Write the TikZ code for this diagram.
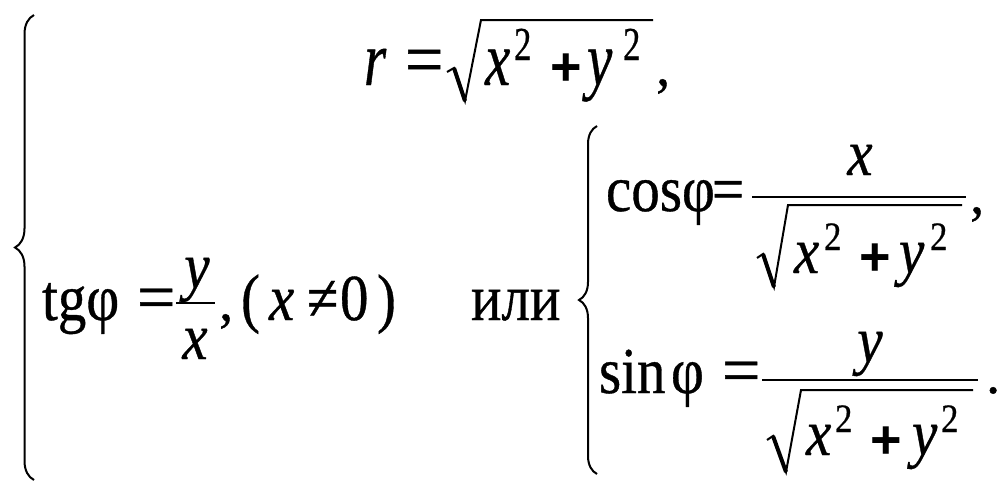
\documentclass[tikz,border=0pt]{standalone}
\usepackage{graphicx}
\usepackage{fontspec}
\setmainfont{Liberation Serif}[FakeBold=0.6]
\setsansfont{Liberation Sans}
\usetikzlibrary{decorations.pathreplacing}
\newcommand{\vs}[2][1.15]{\scalebox{1}[#1]{#2}}
\newcommand{\weq}[1][1.2]{\scalebox{1.2}[#1]{=}}
\begin{document}
\begin{tikzpicture}[x=1pt,y=-1pt,line width=2pt,
    every node/.style={inner sep=0pt,anchor=base west,font=\fontsize{57}{60}\selectfont},
    numer/.style={anchor=base},
    sup/.style={font=\fontsize{35}{40}\selectfont},
    plus/.style={anchor=center,font=\fontsize{54}{60}\selectfont\sffamily\bfseries},
    bar/.style={line width=2.6pt},
    stem/.style={line width=4pt},
    bigbrace/.style={decorate,decoration={brace,amplitude=19pt}},
    smallbrace/.style={decorate,decoration={brace,amplitude=18pt}}]
    \useasboundingbox (0,0) rectangle (1008,496);
    \draw[bigbrace] (34,480) -- (34,15);
    \node (r) at (363,85) {\vs[1.35]{\textit{r}}};
    \node (req) at (404,85) {\weq[1.35]};
    \draw (447,72) -- (454,68) -- (465,101) -- (481,20) -- (653,20);
    \draw[stem] (454,68) -- (465,101);
    \node (rx) at (484,85) {\vs[1.35]{\textit{x}}};
    \node[sup] (rx2) at (513,60) {\vs[1.35]{2}};
    \node[plus] (rplus) at (566,70) {+};
    \node (ry) at (586,85) {\vs[1.35]{\textit{y}}};
    \node[sup] (ry2) at (622,60) {\vs[1.35]{2}};
    \node (rcomma) at (655,85) {,};
    \node (tg) at (41,320) {\vs{tgφ}};
    \node (tgeq) at (136,320) {\weq};
    \draw[bar] (176,303) -- (215,303);
    \node[numer] (tgnum) at (197,288) {\vs{\textit{y}}};
    \node[numer] (tgden) at (195,359) {\vs{\textit{x}}};
    \node (tgcomma) at (218,320) {,};
    \node (lpar) at (240,320) {\vs{(}};
    \node (cx) at (268,320) {\vs{\textit{x}}};
    \node (neq) at (306,320) {\vs{≠}};
    \node (zero) at (339,320) {\vs{0}};
    \node (rpar) at (376,320) {\vs{)}};
    \node (ili) at (470,320) {\vs{или}};
    \draw[smallbrace] (597,474) -- (597,126);
    \node (cos) at (605,211) {\vs{cosφ}};
    \node (coseq) at (711,211) {\vs{=}};
    \draw[bar] (752,197) -- (966,197);
    \node[numer] (cosnum) at (860,175) {\vs{\textit{x}}};
    \draw (757,258) -- (763,254) -- (774,287) -- (788,205) -- (962,205);
    \draw[stem] (763,254) -- (774,287);
    \node (cosx) at (793,273) {\vs{\textit{x}}};
    \node[sup] (cosx2) at (823,250) {\vs{2}};
    \node[plus] (cosplus) at (875,260) {+};
    \node (cosy) at (898,273) {\vs{\textit{y}}};
    \node[sup] (cosy2) at (929,250) {\vs{2}};
    \node (coscomma) at (969,213) {,};
    \node (sin) at (598,393) {\vs{sin}};
    \node (sinphi) at (670,393) {\vs{φ}};
    \node (sineq) at (721,393) {\weq};
    \draw[bar] (762,380) -- (978,380);
    \node[numer] (sinnum) at (870,362) {\vs{\textit{y}}};
    \draw (767,440) -- (773,436) -- (786,472) -- (801,390) -- (973,390);
    \draw[stem] (773,436) -- (786,472);
    \node (sinx) at (805,455) {\vs{\textit{x}}};
    \node[sup] (sinx2) at (834,432) {\vs{2}};
    \node[plus] (sinplus) at (886,443) {+};
    \node (siny) at (911,455) {\vs{\textit{y}}};
    \node[sup] (siny2) at (940,432) {\vs{2}};
    \node (speriod) at (985,393) {.};
\end{tikzpicture}
\end{document}
